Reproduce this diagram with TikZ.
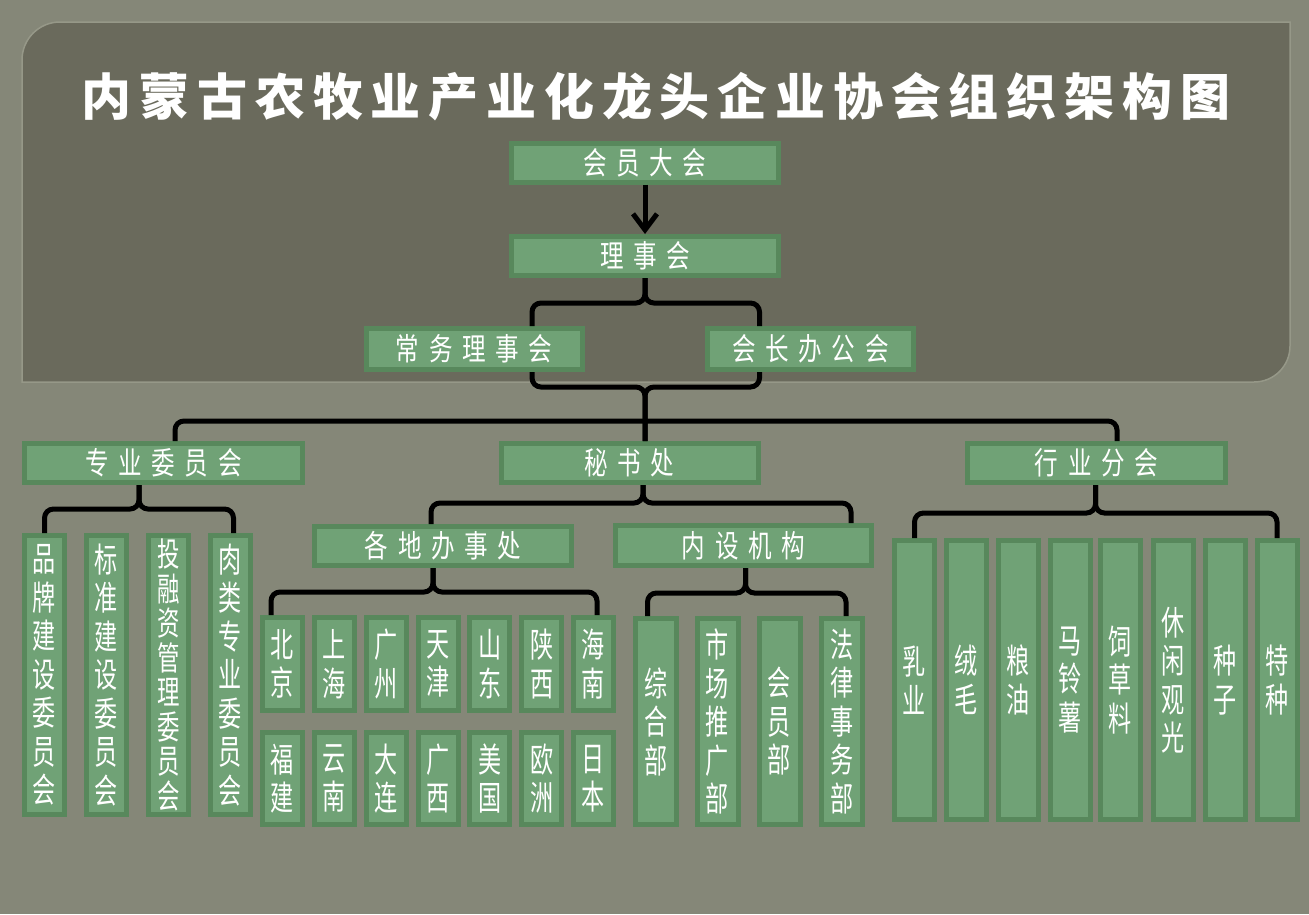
\documentclass[tikz,border=0pt]{standalone}
\usepackage{fontspec}
\newfontfamily\titlefont[LetterSpace=15.6]{Noto Sans CJK SC}
\newfontfamily\hfont[FakeStretch=0.76,LetterSpace=31]{Noto Sans CJK SC}
\newfontfamily\vfont[FakeStretch=0.68]{Noto Sans CJK SC}
\usetikzlibrary{arrows.meta}
\definecolor{bgout}{RGB}{133,135,120}
\definecolor{panelfill}{RGB}{106,106,92}
\definecolor{panelrim}{RGB}{150,152,136}
\definecolor{boxfill}{RGB}{112,162,118}
\definecolor{boxline}{RGB}{88,136,92}
\begin{document}
\begin{tikzpicture}[x=1pt,y=-1pt,
  hbox/.style={draw=boxline, fill=boxfill, line width=5pt, text=white, inner sep=0pt, font=\hfont\fontsize{31}{31}\selectfont, minimum height=39pt},
  vbox/.style={draw=boxline, fill=boxfill, line width=5pt, text=white, inner sep=0pt, align=center, font=\vfont\fontsize{34}{38.5}\selectfont, minimum width=40pt},
  brace/.style={line width=5pt, rounded corners=9pt}]
\useasboundingbox (0,0) rectangle (1309,914);
\fill[bgout] (0,0) rectangle (1309,914);
\filldraw[fill=panelfill, draw=panelrim, line width=1.5pt] (22,382) -- (22,60) .. controls (22,39) and (39,22) .. (60,22) -- (1290,22) -- (1290,346) .. controls (1290,366) and (1274,382) .. (1254,382) -- cycle;
\node[text=white, font=\titlefont\bfseries\fontsize{50}{50}\selectfont] (title) at (656,97){内蒙古农牧业产业化龙头企业协会组织架构图};
\node[hbox, minimum width=267pt] (hyd) at (645,162.5){会员大会};
\node[hbox, minimum width=267pt] (lsh) at (645,256){理事会};
\node[hbox, minimum width=216pt, minimum height=41pt] (cwl) at (474,349){常务理事会};
\node[hbox, minimum width=206pt, minimum height=41pt] (hzb) at (810.5,349){会长办公会};
\node[hbox, minimum width=278pt] (zyw) at (163.5,463){专业委员会};
\node[hbox, minimum width=257pt] (msc) at (629.5,463){秘书处};
\node[hbox, minimum width=258pt] (hyf) at (1096.5,463){行业分会};
\node[hbox, minimum width=257pt] (gdb) at (443,546){各地办事处};
\node[hbox, minimum width=256pt, minimum height=40pt] (nsj) at (743.5,545.5){内设机构};
\node[vbox, minimum height=279pt] (pj1) at (44.5,675){品\\牌\\建\\设\\委\\员\\会};
\node[vbox, minimum height=279pt] (pj2) at (106.5,675){标\\准\\建\\设\\委\\员\\会};
\node[vbox, minimum height=279pt, font=\vfont\fontsize{33}{34.5}\selectfont] (pj3) at (168.5,675){投\\融\\资\\管\\理\\委\\员\\会};
\node[vbox, minimum height=279pt] (pj4) at (230.5,675){肉\\类\\专\\业\\委\\员\\会};
\node[vbox, minimum height=93pt] (c1) at (282.5,664){北\\京};
\node[vbox, minimum height=93pt] (c2) at (334.3,664){上\\海};
\node[vbox, minimum height=93pt] (c3) at (386.2,664){广\\州};
\node[vbox, minimum height=93pt] (c4) at (438,664){天\\津};
\node[vbox, minimum height=93pt] (c5) at (489.8,664){山\\东};
\node[vbox, minimum height=93pt] (c6) at (541.7,664){陕\\西};
\node[vbox, minimum height=93pt] (c7) at (593.5,664){海\\南};
\node[vbox, minimum height=92pt] (c8) at (282.5,778.5){福\\建};
\node[vbox, minimum height=92pt] (c9) at (334.3,778.5){云\\南};
\node[vbox, minimum height=92pt] (c10) at (386.2,778.5){大\\连};
\node[vbox, minimum height=92pt] (c11) at (438,778.5){广\\西};
\node[vbox, minimum height=92pt] (c12) at (489.8,778.5){美\\国};
\node[vbox, minimum height=92pt] (c13) at (541.7,778.5){欧\\洲};
\node[vbox, minimum height=92pt] (c14) at (593.5,778.5){日\\本};
\node[vbox, minimum height=206pt, minimum width=41pt] (nb1) at (656,721.5){综\\合\\部};
\node[vbox, minimum height=206pt, minimum width=41pt] (nb2) at (717.5,721.5){市\\场\\推\\广\\部};
\node[vbox, minimum height=206pt, minimum width=41pt] (nb3) at (779.5,721.5){会\\员\\部};
\node[vbox, minimum height=206pt, minimum width=41pt] (nb4) at (842,721.5){法\\律\\事\\务\\部};
\node[vbox, minimum height=279pt] (hy1) at (914.5,680){乳\\业};
\node[vbox, minimum height=279pt] (hy2) at (966.5,680){绒\\毛};
\node[vbox, minimum height=279pt] (hy3) at (1018,680){粮\\油};
\node[vbox, minimum height=279pt] (hy4) at (1070,680){马\\铃\\薯};
\node[vbox, minimum height=279pt] (hy5) at (1120.5,680){饲\\草\\料};
\node[vbox, minimum height=279pt] (hy6) at (1173,680){休\\闲\\观\\光};
\node[vbox, minimum height=279pt] (hy7) at (1225,680){种\\子};
\node[vbox, minimum height=279pt] (hy8) at (1277,680){特\\种};
\coordinate (b1) at (645,303);
\coordinate (b2) at (645,387);
\coordinate (b3) at (645,421);
\coordinate (b4) at (139,509);
\coordinate (b5) at (643,503);
\coordinate (b6) at (433,592);
\coordinate (b7) at (745.5,593);
\coordinate (b8) at (1095.5,513);
\draw[-{Straight Barb[length=16pt,width=24pt]}, line width=5pt](hyd) -- (lsh);
\draw[brace]([xshift=58pt]cwl.north) |- (b1) -- (lsh.south);
\draw[brace]([xshift=-51pt]hzb.north) |- (b1) -- (lsh.south);
\draw[brace]([xshift=58pt]cwl.south) |- (b2) -- ([xshift=15.5pt]msc.north);
\draw[brace]([xshift=-51pt]hzb.south) |- (b2) -- ([xshift=15.5pt]msc.north);
\draw[brace]([xshift=11.5pt]zyw.north) |- (b3) -| ([xshift=20.5pt]hyf.north);
\draw[brace](pj1.north) |- (b4) -- ([xshift=-24.5pt]zyw.south);
\draw[brace]([xshift=3pt]pj4.north) |- (b4) -- ([xshift=-24.5pt]zyw.south);
\draw[brace]([xshift=-12pt]gdb.north) |- (b5) -- ([xshift=13.5pt]msc.south);
\draw[brace]([xshift=107.5pt]nsj.north) |- (b5) -- ([xshift=13.5pt]msc.south);
\draw[brace]([xshift=-11.5pt]c1.north) |- (b6) -- ([xshift=-10pt]gdb.south);
\draw[brace]([xshift=3.5pt]c7.north) |- (b6) -- ([xshift=-10pt]gdb.south);
\draw[brace]([xshift=-8.5pt]nb1.north) |- (b7) -- ([xshift=2pt]nsj.south);
\draw[brace]([xshift=4pt]nb4.north) |- (b7) -- ([xshift=2pt]nsj.south);
\draw[brace](hy1.north) |- (b8) -- ([xshift=-1pt]hyf.south);
\draw[brace](hy8.north) |- (b8) -- ([xshift=-1pt]hyf.south);
\end{tikzpicture}
\end{document}
